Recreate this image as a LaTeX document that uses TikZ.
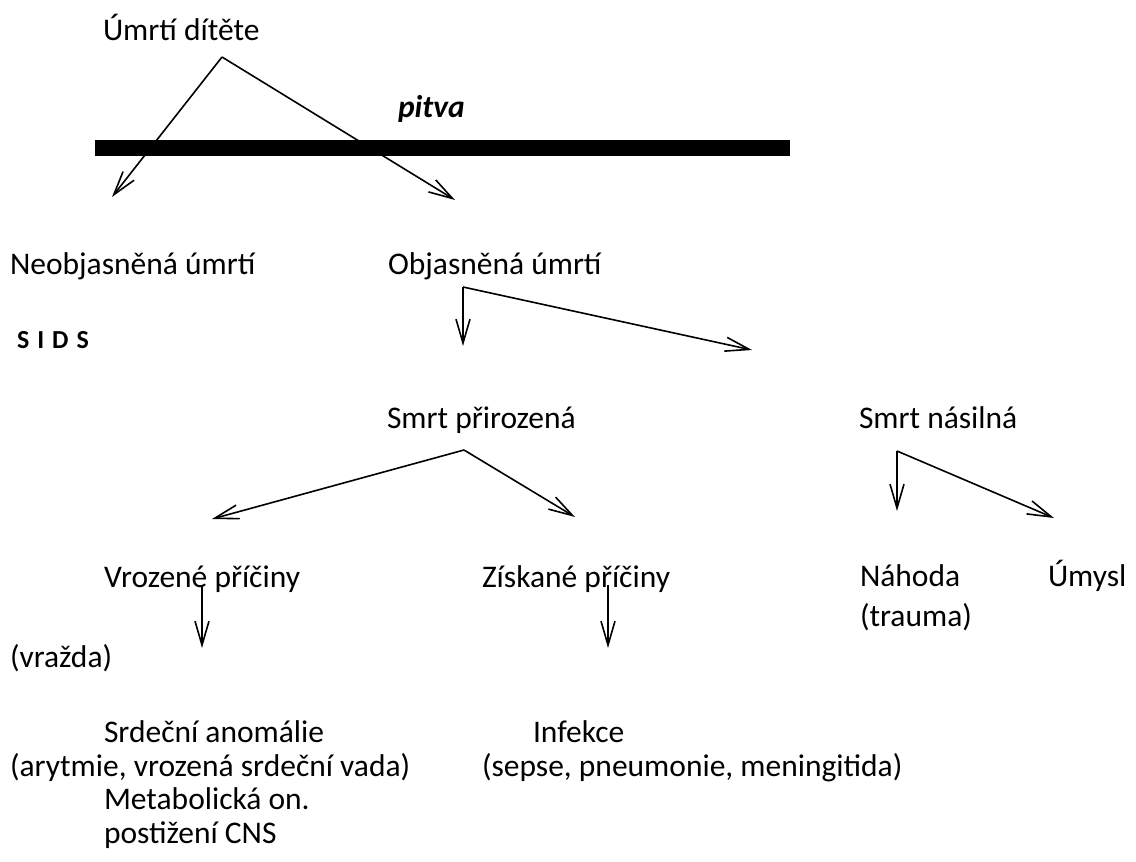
\documentclass[tikz,border=0pt]{standalone}
\usepackage{fontspec}
\setmainfont{Carlito}
\usetikzlibrary{arrows.meta}
\begin{document}
\begin{tikzpicture}[x=1bp,y=-1bp,
  lbl/.style={anchor=base west,inner sep=0pt,outer sep=0pt,font=\fontsize{31.5bp}{36bp}\selectfont},
  conn/.style={line width=1.6bp,-{Straight Barb[length=24bp,width=14bp,line width=1.6bp]}}]
\useasboundingbox (0,0) rectangle (1136,862);
% texts
\node[lbl] (umrti) at (103,40) {Úmrtí dítěte};
\node[lbl,font=\fontsize{31.5bp}{36bp}\selectfont\bfseries\itshape] (pitva) at (398,117) {pitva};
\node[lbl] (neobj) at (10,274) {Neobjasněná úmrtí};
\node[lbl] (obj) at (388,274) {Objasněná úmrtí};
\node[lbl,font=\fontsize{26bp}{34bp}\selectfont\bfseries] (sids) at (17,348) {S\hspace{8bp}I\hspace{8bp}D\hspace{8bp}S};
\node[lbl] (prir) at (387,428) {Smrt přirozená};
\node[lbl] (nasil) at (859,428) {Smrt násilná};
\node[lbl] (vroz) at (104,587) {Vrozené příčiny};
\node[lbl] (zisk) at (482,587) {Získané příčiny};
\node[lbl] (nahoda) at (860,586) {Náhoda};
\node[lbl] (trauma) at (860,626) {(trauma)};
\node[lbl] (umysl) at (1048,586) {Úmysl};
\node[lbl] (vrazda) at (10,667) {(vražda)};
\node[lbl] (srdce) at (104,742) {Srdeční anomálie};
\node[lbl] (arytm) at (10,776) {(arytmie, vrozená srdeční vada)};
\node[lbl] (metab) at (104,809) {Metabolická on.};
\node[lbl] (cns) at (104,843) {postižení CNS};
\node[lbl] (infekce) at (533,742) {Infekce};
\node[lbl] (sepse) at (482,776) {(sepse, pneumonie, meningitida)};
% bar
\fill (95,140) rectangle (790,156);
% junction points
\coordinate (j1) at (222,57);
\coordinate (e1a) at (112,197);
\coordinate (e1b) at (455,200);
\coordinate (j2) at (463,287);
\coordinate (e2a) at (463,346);
\coordinate (e2b) at (752,350);
\coordinate (j3) at (464,450);
\coordinate (e3a) at (212,519);
\coordinate (e3b) at (575,517);
\coordinate (j4) at (897,451);
\coordinate (e4a) at (897,511);
\coordinate (e4b) at (1054,518);
\coordinate (j5) at (202,585);
\coordinate (e5) at (202,648);
\coordinate (j6) at (608,585);
\coordinate (e6) at (608,648);
% connectors
\draw[conn] (j1) -- (e1a);
\draw[conn] (j1) -- (e1b);
\draw[conn] (j2) -- (e2a);
\draw[conn] (j2) -- (e2b);
\draw[conn] (j3) -- (e3a);
\draw[conn] (j3) -- (e3b);
\draw[conn] (j4) -- (e4a);
\draw[conn] (j4) -- (e4b);
\draw[conn] (j5) -- (e5);
\draw[conn] (j6) -- (e6);
\end{tikzpicture}
\end{document}
